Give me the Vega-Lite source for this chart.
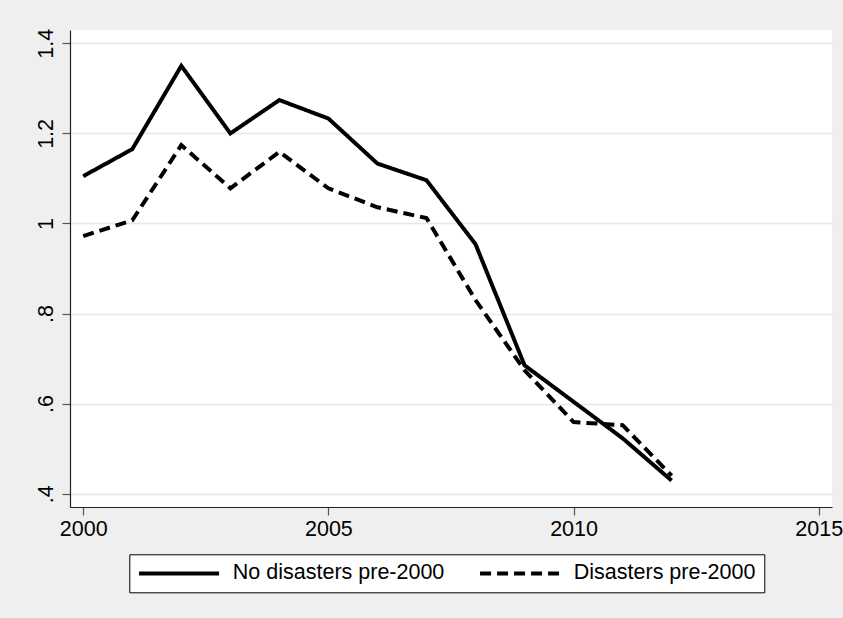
{
  "$schema": "https://vega.github.io/schema/vega-lite/v6.json",
  "width": 762,
  "height": 477,
  "autosize": {"type": "none"},
  "padding": {"left": 70, "top": 30, "right": 11, "bottom": 111},
  "background": "#EFEFEF",
  "view": {"fill": "white", "stroke": null},
  "data": {
    "values": [
      {"year": 2000, "value": 1.105, "group": "No disasters pre-2000"},
      {"year": 2001, "value": 1.165, "group": "No disasters pre-2000"},
      {"year": 2002, "value": 1.35, "group": "No disasters pre-2000"},
      {"year": 2003, "value": 1.2, "group": "No disasters pre-2000"},
      {"year": 2004, "value": 1.274, "group": "No disasters pre-2000"},
      {"year": 2005, "value": 1.233, "group": "No disasters pre-2000"},
      {"year": 2006, "value": 1.133, "group": "No disasters pre-2000"},
      {"year": 2007, "value": 1.096, "group": "No disasters pre-2000"},
      {"year": 2008, "value": 0.954, "group": "No disasters pre-2000"},
      {"year": 2009, "value": 0.685, "group": "No disasters pre-2000"},
      {"year": 2010, "value": 0.604, "group": "No disasters pre-2000"},
      {"year": 2011, "value": 0.523, "group": "No disasters pre-2000"},
      {"year": 2012, "value": 0.429, "group": "No disasters pre-2000"},
      {"year": 2000, "value": 0.972, "group": "Disasters pre-2000"},
      {"year": 2001, "value": 1.007, "group": "Disasters pre-2000"},
      {"year": 2002, "value": 1.174, "group": "Disasters pre-2000"},
      {"year": 2003, "value": 1.078, "group": "Disasters pre-2000"},
      {"year": 2004, "value": 1.159, "group": "Disasters pre-2000"},
      {"year": 2005, "value": 1.078, "group": "Disasters pre-2000"},
      {"year": 2006, "value": 1.036, "group": "Disasters pre-2000"},
      {"year": 2007, "value": 1.012, "group": "Disasters pre-2000"},
      {"year": 2008, "value": 0.83, "group": "Disasters pre-2000"},
      {"year": 2009, "value": 0.674, "group": "Disasters pre-2000"},
      {"year": 2010, "value": 0.559, "group": "Disasters pre-2000"},
      {"year": 2011, "value": 0.552, "group": "Disasters pre-2000"},
      {"year": 2012, "value": 0.44, "group": "Disasters pre-2000"}
    ]
  },
  "mark": {"type": "line", "color": "black", "strokeWidth": 4, "strokeCap": "butt", "strokeJoin": "miter"},
  "encoding": {
    "x": {
      "field": "year",
      "type": "quantitative",
      "scale": {"domain": [1999.73, 2015.27], "nice": false, "zero": false},
      "axis": {
        "title": null,
        "values": [2000, 2005, 2010, 2015],
        "format": "d",
        "grid": false,
        "domainColor": "#222",
        "domainWidth": 1.2,
        "tickColor": "#555",
        "tickSize": 8,
        "tickWidth": 1.2,
        "labelFont": "Liberation Sans",
        "labelFontSize": 21.5,
        "labelColor": "black",
        "labelPadding": 3,
        "labelFlush": false
      }
    },
    "y": {
      "field": "value",
      "type": "quantitative",
      "scale": {"domain": [0.3704, 1.4296], "nice": false, "zero": false},
      "axis": {
        "title": null,
        "values": [0.4, 0.6, 0.8, 1, 1.2, 1.4],
        "labelExpr": "datum.value == 1 ? '1' : (datum.value < 1 ? replace(format(datum.value, '.1f'), '0.', '.') : format(datum.value, '.1f'))",
        "grid": true,
        "gridColor": "#E6E6E6",
        "gridWidth": 1.5,
        "domainColor": "#222",
        "domainWidth": 1.2,
        "tickColor": "#555",
        "tickSize": 8,
        "tickWidth": 1.2,
        "labelFont": "Liberation Sans",
        "labelFontSize": 21.5,
        "labelColor": "black",
        "labelAngle": -90,
        "labelAlign": "center",
        "labelBaseline": "alphabetic",
        "labelPadding": 10,
        "labelFlush": false
      }
    },
    "strokeDash": {
      "field": "group",
      "type": "nominal",
      "scale": {
        "domain": ["No disasters pre-2000", "Disasters pre-2000"],
        "range": [[1, 0], [11, 6]]
      },
      "legend": {
        "title": null,
        "orient": "none",
        "legendX": 59.3,
        "legendY": 524.3,
        "direction": "horizontal",
        "symbolType": "M-8,0H8",
        "symbolSize": 100,
        "symbolStrokeWidth": 4,
        "symbolStrokeColor": "black",
        "symbolOffset": 31,
        "labelFont": "Liberation Sans",
        "labelFontSize": 21.5,
        "labelColor": "black",
        "labelOffset": 43,
        "labelLimit": 400,
        "columnPadding": 26,
        "padding": 8,
        "strokeColor": "black",
        "fillColor": "white"
      }
    }
  }
}
